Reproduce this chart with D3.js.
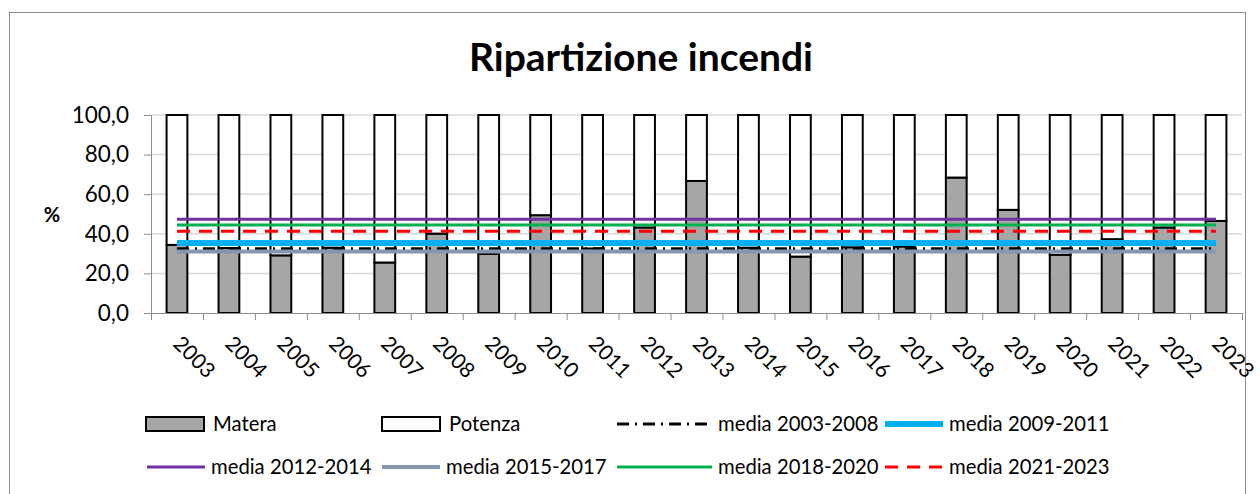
<!DOCTYPE html>
<html>
<head>
<meta charset="utf-8">
<script src="https://cdn.jsdelivr.net/npm/d3@7"></script>
<style>
  body { margin: 0; background: #fff; }
  svg text { font-family: Lato, "Open Sans", sans-serif; fill: #000; }
</style>
</head>
<body>
<script>
// Chart values
const years = ["2003","2004","2005","2006","2007","2008","2009","2010","2011","2012","2013",
               "2014","2015","2016","2017","2018","2019","2020","2021","2022","2023"];
const matera  = [34.4, 32.8, 29.1, 33.0, 25.5, 40.1, 29.9, 49.4, 32.6, 43.2, 66.7,
                 33.0, 28.5, 33.2, 33.6, 68.4, 52.1, 29.4, 37.3, 43.2, 46.5];
const potenza = [65.6, 67.2, 70.9, 67.0, 74.5, 59.9, 70.1, 50.6, 67.4, 56.8, 33.3,
                 67.0, 71.5, 66.8, 66.4, 31.6, 47.9, 70.6, 62.7, 56.8, 53.5];
const mediaNames  = ["media 2003-2008","media 2009-2011","media 2012-2014",
                     "media 2015-2017","media 2018-2020","media 2021-2023"];
const mediaValues = [32.4, 35.3, 47.4, 31.1, 44.4, 41.3];
const yTicks = [0, 20, 40, 60, 80, 100];

const w = 1260, h = 494;
const plotLeft = 151, plotRight = 1242, plotTop = 115, plotBottom = 313;

// line styles for the averages, same order as mediaNames
const mediaStyle = [
  { color: "#000000", width: 3, dash: "12,6,2,6" },
  { color: "#00b0f0", width: 6, dash: null },
  { color: "#7030a0", width: 3, dash: null },
  { color: "#8497b0", width: 4, dash: null },
  { color: "#00b050", width: 3, dash: null },
  { color: "#ff0000", width: 3, dash: "13,9" }
];

const svg = d3.select("body").append("svg")
  .attr("width", w)
  .attr("height", h);

// outer chart frame
svg.append("rect")
  .attr("x", 9.5).attr("y", 12.5)
  .attr("width", 1236).attr("height", 520)
  .attr("fill", "none")
  .attr("stroke", "#8c8c8c");

// title
svg.append("text")
  .attr("x", 641).attr("y", 71)
  .attr("text-anchor", "middle")
  .style("font-size", "39px")
  .style("font-weight", "bold")
  .text("Ripartizione incendi");

const x = d3.scaleBand()
  .domain(years)
  .range([plotLeft, plotRight])
  .paddingInner(0.6)
  .paddingOuter(0.3);

const y = d3.scaleLinear()
  .domain([0, 100])
  .range([plotBottom, plotTop]);

// gridlines
svg.append("g")
  .selectAll("line")
  .data(yTicks.slice(1))
  .join("line")
  .attr("x1", plotLeft).attr("x2", plotRight)
  .attr("y1", d => y(d)).attr("y2", d => y(d))
  .attr("stroke", "#d9d9d9")
  .attr("stroke-width", 1.5);

// y axis
const yAxis = svg.append("g")
  .attr("transform", `translate(${plotLeft},0)`)
  .call(d3.axisLeft(y)
    .tickValues(yTicks)
    .tickSize(7)
    .tickSizeOuter(0)
    .tickPadding(15)
    .tickFormat(d => d.toFixed(1).replace(".", ",")));
yAxis.select(".domain").attr("stroke", "#8c8c8c");
yAxis.selectAll(".tick line").attr("stroke", "#8c8c8c");
yAxis.selectAll(".tick text")
  .style("font-size", "22.5px")
  .attr("fill", "#000");

svg.append("text")
  .attr("x", 52).attr("y", 222)
  .attr("text-anchor", "middle")
  .style("font-size", "20px")
  .style("font-weight", "bold")
  .text("%");

// stacked bars
const rows = years.map((yr, i) => ({ year: yr, Matera: matera[i], Potenza: potenza[i] }));
const stack = d3.stack().keys(["Matera", "Potenza"])(rows);
const fills = { Matera: "#a6a6a6", Potenza: "#ffffff" };

svg.append("g")
  .selectAll("g")
  .data(stack)
  .join("g")
  .attr("fill", d => fills[d.key])
  .selectAll("rect")
  .data(d => d)
  .join("rect")
  .attr("x", d => x(d.data.year))
  .attr("width", x.bandwidth())
  .attr("y", d => y(d[1]))
  .attr("height", d => y(d[0]) - y(d[1]))
  .attr("stroke", "#000")
  .attr("stroke-width", 2);

// x axis: boundary ticks
const xEdge = d3.scaleLinear().domain([0, years.length]).range([plotLeft, plotRight]);
const xAxis = svg.append("g")
  .attr("transform", `translate(0,${plotBottom})`)
  .call(d3.axisBottom(xEdge)
    .tickValues(d3.range(years.length + 1))
    .tickSize(7)
    .tickSizeOuter(0)
    .tickFormat(""));
xAxis.select(".domain").attr("stroke", "#8c8c8c");
xAxis.selectAll(".tick line").attr("stroke", "#8c8c8c");

// rotated year labels
svg.append("g")
  .selectAll("text")
  .data(years)
  .join("text")
  .attr("transform", d => `translate(${x(d) + x.bandwidth() / 2 - 5},${plotBottom + 32}) rotate(45)`)
  .style("font-size", "21px")
  .text(d => d);

// average lines
const x0 = x(years[0]) + x.bandwidth() / 2;
const x1 = x(years[years.length - 1]) + x.bandwidth() / 2;
svg.append("g")
  .selectAll("line")
  .data(mediaValues)
  .join("line")
  .attr("x1", x0).attr("x2", x1)
  .attr("y1", d => y(d)).attr("y2", d => y(d))
  .attr("stroke", (d, i) => mediaStyle[i].color)
  .attr("stroke-width", (d, i) => mediaStyle[i].width)
  .attr("stroke-dasharray", (d, i) => mediaStyle[i].dash);

// legend
const legend = svg.append("g").attr("id", "legend");
const row1 = 424, row2 = 467;

[["Matera", fills.Matera, 146], ["Potenza", fills.Potenza, 382]].forEach(([name, fill, lx]) => {
  legend.append("rect")
    .attr("x", lx).attr("y", row1 - 7)
    .attr("width", 58).attr("height", 14)
    .attr("fill", fill)
    .attr("stroke", "#000")
    .attr("stroke-width", 2);
  legend.append("text")
    .attr("x", lx + 67).attr("y", row1 + 7)
    .style("font-size", "20.3px")
    .text(name);
});

const lineSlots = [
  { x: 617, len: 95, y: row1 },
  { x: 885, len: 58, y: row1 },
  { x: 147, len: 58, y: row2 },
  { x: 382, len: 58, y: row2 },
  { x: 617, len: 95, y: row2 },
  { x: 885, len: 58, y: row2 }
];
mediaNames.forEach((name, i) => {
  const s = lineSlots[i], st = mediaStyle[i];
  legend.append("line")
    .attr("x1", s.x).attr("x2", s.x + s.len)
    .attr("y1", s.y).attr("y2", s.y)
    .attr("stroke", st.color)
    .attr("stroke-width", st.width)
    .attr("stroke-dasharray", st.dash);
  legend.append("text")
    .attr("x", s.x + s.len + 6).attr("y", s.y + 7)
    .style("font-size", "20.3px")
    .text(name);
});
</script>
</body>
</html>
